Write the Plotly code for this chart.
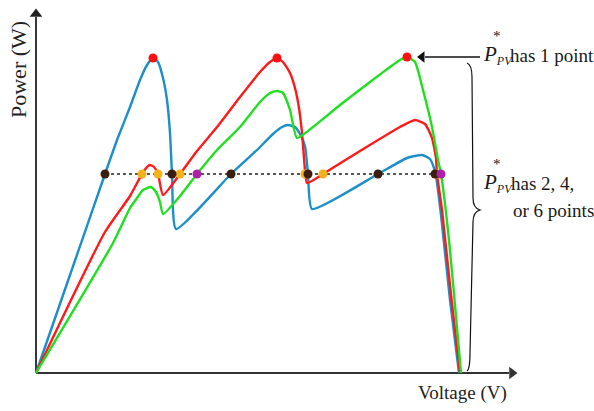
import plotly.graph_objects as go

# ---- data (arbitrary units: voltage, power) ----
blue_v = [0, 34, 69, 81, 94, 104, 111, 117, 122, 127, 131, 134, 136, 140, 195, 221, 237, 246, 252, 259, 264, 269, 272, 276, 342, 371, 386, 394, 398, 400, 405, 414, 423]
blue_p = [0, 98, 199, 233, 266, 293, 308, 315, 311, 295, 273, 240, 199, 144, 199, 223, 239, 246, 248, 246, 239, 227, 199, 164, 199, 215, 218, 214, 205, 197, 158, 73, 0]

red_v = [0, 69, 94, 106, 111, 114, 118, 122, 127, 144, 161, 181, 204, 224, 234, 241, 247, 254, 259, 263, 266, 269, 271, 287, 324, 364, 379, 389, 396, 400, 401, 406, 415, 424]
red_p = [0, 141, 177, 199, 206, 208, 206, 199, 178, 199, 222, 246, 276, 301, 311, 315, 311, 300, 285, 265, 240, 203, 190, 199, 222, 246, 253, 249, 235, 215, 199, 163, 78, 0]

green_v = [0, 77, 94, 101, 107, 115, 120, 124, 127, 144, 161, 181, 204, 224, 234, 241, 247, 254, 261, 277, 304, 334, 354, 364, 371, 379, 387, 396, 402, 405, 413, 419, 425]
green_p = [0, 130, 165, 175, 183, 186, 181, 171, 159, 177, 199, 223, 246, 271, 280, 282, 280, 263, 235, 246, 268, 291, 306, 313, 316, 311, 283, 246, 213, 199, 133, 68, 0]

mpp_v = [117, 241, 371]          # single global maxima (red dots)
mpp_p = [315, 315, 316]

level_p = 199                     # reference power level (dotted line)
level_v = [69, 405]
blue_cross_v = [69, 136, 195, 272, 342, 399]     # black dots
red_cross_v = [106, 122, 144, 269, 287, 401]     # orange dots
green_cross_v = [161, 405]                       # purple dots

BLUE = "#1c8fcb"
RED = "#ff1a1a"
GREEN = "#1fe01f"
FONT = "Liberation Serif"
INK = "#1a1a1a"

fig = go.Figure()

for v, p, c in [(blue_v, blue_p, BLUE), (red_v, red_p, RED), (green_v, green_p, GREEN)]:
    fig.add_trace(go.Scatter(x=v, y=p, mode="lines",
                             line=dict(color=c, width=2.4, shape="spline", smoothing=0.5),
                             hoverinfo="skip"))

fig.add_trace(go.Scatter(x=level_v, y=[level_p, level_p], mode="lines",
                         line=dict(color="#222222", width=1.6, dash="dot"), hoverinfo="skip"))

fig.add_trace(go.Scatter(x=red_cross_v, y=[level_p] * len(red_cross_v), mode="markers",
                         marker=dict(color="#f4b21c", size=9)))
fig.add_trace(go.Scatter(x=blue_cross_v, y=[level_p] * len(blue_cross_v), mode="markers",
                         marker=dict(color="#3a1e10", size=9)))
fig.add_trace(go.Scatter(x=green_cross_v, y=[level_p] * len(green_cross_v), mode="markers",
                         marker=dict(color="#b01fa8", size=9)))
fig.add_trace(go.Scatter(x=mpp_v, y=mpp_p, mode="markers",
                         marker=dict(color="#ff1010", size=9)))

# arrowheads of the axes and of the pointer
fig.add_trace(go.Scatter(x=[0], y=[359], mode="markers", hoverinfo="skip",
                         marker=dict(symbol="triangle-up", size=11, color="#222222",
                                     line=dict(width=0))))
fig.add_trace(go.Scatter(x=[476], y=[0], mode="markers", hoverinfo="skip",
                         marker=dict(symbol="triangle-right", size=11, color="#333333",
                                     line=dict(width=0))))
fig.add_trace(go.Scatter(x=[386], y=[316], mode="markers", hoverinfo="skip",
                         marker=dict(symbol="triangle-left", size=10, color="#111111",
                                     line=dict(width=0))))

shapes = [
    dict(type="line", x0=0, y0=0, x1=0, y1=356, line=dict(color="#222222", width=1.8)),
    dict(type="line", x0=0, y0=0, x1=473, y1=0, line=dict(color="#333333", width=1.8)),
    dict(type="line", x0=389, y0=316, x1=444, y1=316, line=dict(color="#111111", width=1.5)),
    dict(type="path",
         path="M 431,310 Q 436,308 436,296 L 437,175 Q 437,165 444,163 "
              "Q 437,161 437,151 L 434,20 Q 434,4 431,2",
         line=dict(color="#111111", width=1.2)),
]
for s in shapes:
    s.update(xref="x", yref="y", layer="below")

ann = []
# axis labels
ann.append(dict(x=-18, y=303, text="Power (W)", textangle=-90,
                showarrow=False, font=dict(family=FONT, size=22, color="#222222")))
ann.append(dict(x=426, y=-20, text="Voltage (V)",
                showarrow=False, font=dict(family=FONT, size=19, color="#222222")))

PPV = ("<i>P</i><sub><span style='font-size:12px'><i>PV</i></span></sub>")

def label(y_mid, rest, rest_x):
    return [
        dict(x=445, y=y_mid, xanchor="left", text=PPV, showarrow=False,
             font=dict(family=FONT, size=21, color=INK)),
        dict(x=461, y=y_mid + 19, text="*", showarrow=False,
             font=dict(family=FONT, size=15, color=INK)),
        dict(x=rest_x, y=y_mid, text=rest, showarrow=False, xanchor="left",
             font=dict(family=FONT, size=19, color=INK)),
    ]

ann += label(318, "has 1 point", 472)
ann += label(190, "has 2, 4,", 473)
ann.append(dict(x=475, y=163, text="or 6 points", showarrow=False, xanchor="left",
                font=dict(family=FONT, size=19, color=INK)))

for a in ann:
    a.setdefault("xref", "x")
    a.setdefault("yref", "y")

fig.update_layout(
    width=594, height=411,
    margin=dict(l=0, r=0, t=0, b=0, autoexpand=False),
    paper_bgcolor="white", plot_bgcolor="white",
    showlegend=False,
    xaxis=dict(range=[-36, 558], visible=False, fixedrange=True),
    yaxis=dict(range=[-38, 373], visible=False, fixedrange=True),
    annotations=ann,
    shapes=shapes,
)

fig.write_html("out.html", config={"displayModeBar": False},
               post_script="document.body.style.margin='0';document.body.style.overflow='hidden';")
